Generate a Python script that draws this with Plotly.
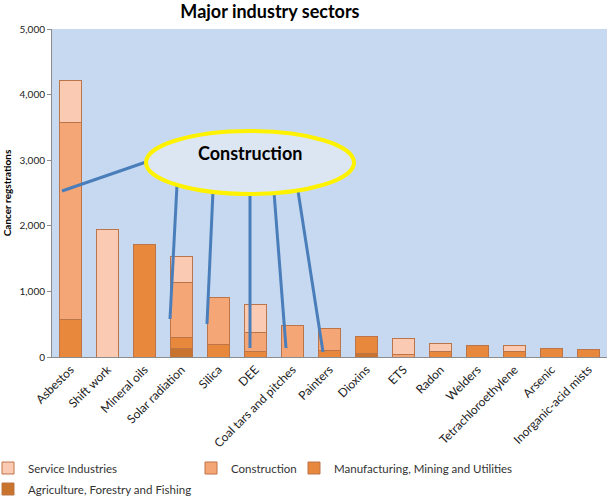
import plotly.graph_objects as go

categories = ["Asbestos", "Shift work", "Mineral oils", "Solar radiation", "Silica", "DEE",
              "Coal tars and pitches", "Painters", "Dioxins", "ETS", "Radon", "Welders",
              "Tetrachloroethylene", "Arsenic", "Inorganic-acid mists"]

# cancer registrations by sector (None = no segment)
agriculture = [None, None, None, 133, None, None, None, None, 56, None, None, None, None, None, None]
manufacturing = [575, None, 1718, 163, 198, 82, None, 102, 260, None, 77, 173, 77, 128, 122]
construction = [3007, None, None, 838, 707, 290, 473, 331, None, 41, None, None, None, None, None]
service = [630, 1951, None, 401, None, 431, None, None, None, 239, 132, None, 91, None, None]

W, H = 609, 498
L, R, T, B = 52, 2, 29, 141
pw, ph = W - L - R, H - T - B


def px(x):
    return (x - L) / pw


def py(y):
    return (H - B - y) / ph


series = [
    ("Agriculture, Forestry and Fishing", agriculture, "#C8742F", "legend4"),
    ("Manufacturing, Mining and Utilities", manufacturing, "#E8883C", "legend3"),
    ("Construction", construction, "#F5A677", "legend2"),
    ("Service Industries", service, "#FACAB2", "legend5"),
]

fig = go.Figure()
for name, vals, col, leg in series:
    fig.add_trace(go.Bar(x=categories, y=vals, name=name, legend=leg, width=0.58,
                         marker=dict(color=col, line=dict(color="#BC7549", width=1))))

# callout lines from the "Construction" bubble
callouts = [((62, 191), (146, 162)), ((177, 185), (170, 319)), ((213, 191), (207, 324)),
            ((250, 194), (250, 348)), ((274, 192), (286, 348)), ((298, 191), (323, 352))]
for (x0, y0), (x1, y1) in callouts:
    fig.add_shape(type="line", xref="paper", yref="paper",
                  x0=px(x0), y0=py(y0), x1=px(x1), y1=py(y1),
                  line=dict(color="#4A7EBB", width=3))

fig.add_shape(type="circle", xref="paper", yref="paper",
              x0=px(146), y0=py(194), x1=px(354), y1=py(131),
              fillcolor="#DCE6F2", line=dict(color="#FFF200", width=4))
fig.add_annotation(text="<b>Construction</b>", xref="paper", yref="paper",
                   x=px(250), y=py(153), showarrow=False,
                   font=dict(size=18, color="black"))

leg_font = dict(family="Lato", size=11.5, color="#333333")
legend_common = dict(orientation="h", xanchor="left", yanchor="middle",
                     bgcolor="rgba(0,0,0,0)", font=leg_font)

fig.update_layout(
    width=W, height=H,
    margin=dict(l=L, r=R, t=T, b=B, autoexpand=False),
    barmode="stack",
    paper_bgcolor="white",
    plot_bgcolor="#C6D9F1",
    font=dict(family="Lato", color="#222222"),
    title=dict(text="<b>Major industry sectors</b>", x=px(298), xanchor="center",
               y=1 - 12 / H, yanchor="middle", font=dict(size=18, color="black")),
    legend=dict(visible=False),
    legend5=dict(x=px(-12), y=py(468), **legend_common),
    legend2=dict(x=px(191), y=py(468), **legend_common),
    legend3=dict(x=px(294), y=py(468), **legend_common),
    legend4=dict(x=px(-12), y=py(489), **legend_common),
    xaxis=dict(tickangle=-45, tickfont=dict(size=12, color="#222222"),
               showline=True, linecolor="#8C8C8C", linewidth=1, ticks="",
               showgrid=False, range=[-0.5, 14.5], automargin=False),
    yaxis=dict(range=[0, 5000], dtick=1000, tickformat=",", showgrid=False,
               showline=True, linecolor="#8C8C8C", linewidth=1, ticks="outside",
               ticklen=4, tickcolor="#8C8C8C", tickfont=dict(size=10, color="#222222"),
               zeroline=False, automargin=False,
               title=dict(text="<b>Cancer regstrations</b>", standoff=6,
                          font=dict(size=10, color="black"))),
)

fig.write_html("out.html", config={"displayModeBar": False},
               post_script="document.body.style.margin='0';")
